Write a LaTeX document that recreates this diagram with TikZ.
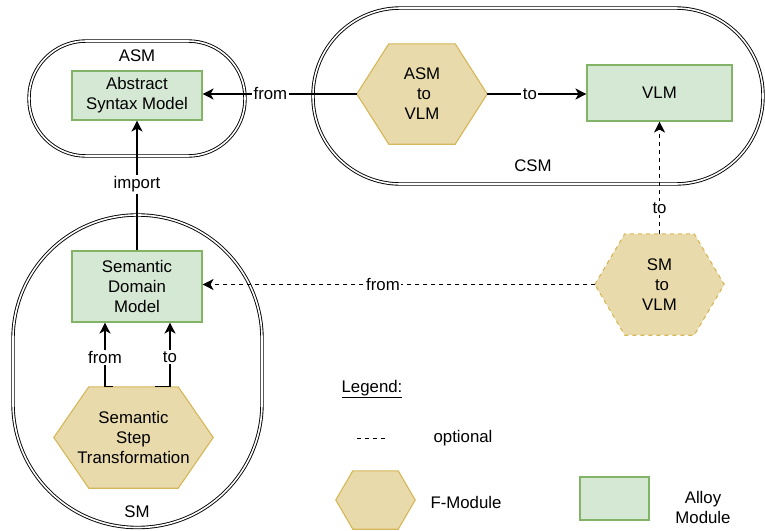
\documentclass[tikz,border=0pt]{standalone}
\usepackage{fontspec}
\setmainfont{Liberation Sans}
\usetikzlibrary{arrows.meta,calc,backgrounds}
\definecolor{almfill}{HTML}{D5E8D4}
\definecolor{almline}{HTML}{82B366}
\definecolor{fmfill}{HTML}{E8DAAB}
\definecolor{fmline}{HTML}{D6B656}

% hexagon drawn around a named (invisible) node; #3 = horizontal inset of the slanted sides
\newcommand\fmhex[3][]{%
  \draw[fmshape,#1] (#2.west) -- ($(#2.north west)+(#3,0)$) -- ($(#2.north east)+(-#3,0)$)
    -- (#2.east) -- ($(#2.south east)+(-#3,0)$) -- ($(#2.south west)+(#3,0)$) -- cycle;}

\begin{document}
\begin{tikzpicture}[x=1pt,y=-1pt,
  every node/.style={font=\fontsize{16.8}{20}\selectfont, inner sep=0pt, align=center},
  container/.style={draw, double, line width=0.9pt, double distance=1.6pt},
  alloybox/.style={draw=almline, fill=almfill, line width=1.1pt},
  fmshape/.style={draw=fmline, fill=fmfill, line width=1.1pt},
  arr/.style={line width=1.2pt, -{Stealth[length=11pt,width=11pt,inset=3pt]}},
  opt/.style={dash pattern=on 4pt off 4pt},
  lbl/.style={fill=white, inner sep=1.5pt}
]
\useasboundingbox (0,0) rectangle (765,530);

% containers
\draw[container, rounded corners=57pt] (29,41) rectangle (245,156);
\draw[container, rounded corners=87.5pt] (313,8) rectangle (763,184);
\draw[container, rounded corners=124pt] (13,215) rectangle (262,527.5);
\node (asmlbl) at (137,56) {ASM};
\node (csmlbl) at (533,166) {CSM};
\node (smlbl) at (137,512) {SM};

% alloy modules
\node[alloybox, minimum width=130pt, minimum height=49pt] (asm) at (137,95.5) {Abstract\\Syntax Model};
\node[alloybox, minimum width=130pt, minimum height=71pt] (sdm) at (137,286.5) {Semantic\\Domain\\Model};
\node[alloybox, minimum width=145pt, minimum height=56pt] (vlm) at (659.5,93) {VLM};

% F-modules
\node[minimum width=130pt, minimum height=100pt] (a2v) at (422,94) {ASM\\\hspace*{4pt}to\\VLM};
\node[minimum width=129pt, minimum height=101pt] (s2v) at (659.5,284.5) {SM\\\hspace*{5pt}to\\VLM};
\node[minimum width=159pt, minimum height=101pt] (sst) at (133.5,437.5) {Semantic\\Step\\Transformation};

% legend
\node (legend) at (372,389) {\underline{Legend:}};
\coordinate (optA) at (357,438);
\coordinate (optB) at (387,438);
\draw[opt, line width=1pt] (optA) -- (optB);
\node (optlbl) at (463,438) {optional};
\node[minimum width=79pt, minimum height=58pt] (fmleg) at (375.5,500) {};
\node (fmlbl) at (466,502) {F-Module};
\node[alloybox, minimum width=69pt, minimum height=43pt] (alleg) at (614.5,498.5) {};
\node (allbl) at (703,507) {Alloy\\Module};

\begin{scope}[on background layer]
  \fmhex{a2v}{32}
  \fmhex[opt]{s2v}{30}
  \fmhex{sst}{35}
  \fmhex{fmleg}{17}
\end{scope}

% connectors
\draw[arr] (a2v.west) -- (a2v.west -| asm.east) node[lbl, pos=0.56] {from};
\draw[arr] (sdm.north) -- (asm.south) node[lbl, pos=0.51] {import};
\draw[arr] (a2v.east) -- (a2v.east -| vlm.west) node[lbl, pos=0.43] {to};
\draw[arr, opt] (s2v.north) -- (vlm.south) node[lbl, pos=0.23] {to};
\draw[arr, opt] (s2v.west) -- (s2v.west -| sdm.east) node[lbl, pos=0.54] {from};
\draw[arr] ($(sst.north)+(-20.5,0)$) -| ($(sdm.south)+(-32,0)$) node[lbl, pos=0.73] {from};
\draw[arr] ($(sst.north)+(21.5,0)$) -| ($(sdm.south)+(33,0)$) node[lbl, pos=0.73] {to};
\end{tikzpicture}
\end{document}
